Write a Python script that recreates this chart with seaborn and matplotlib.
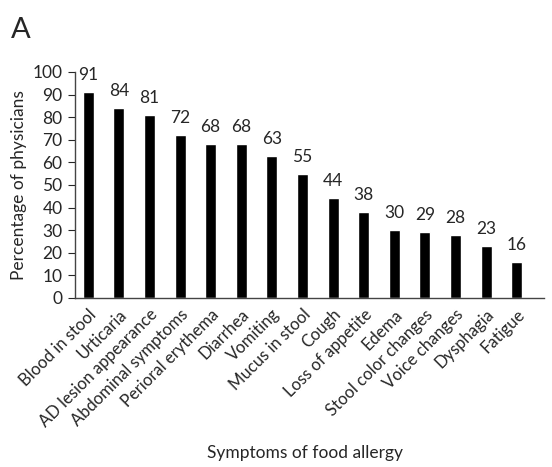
import matplotlib
matplotlib.use("Agg")
import matplotlib.pyplot as plt
import seaborn as sns
import pandas as pd

symptoms = ["Blood in stool", "Urticaria", "AD lesion appearance", "Abdominal symptoms",
            "Perioral erythema", "Diarrhea", "Vomiting", "Mucus in stool", "Cough",
            "Loss of appetite", "Edema", "Stool color changes", "Voice changes",
            "Dysphagia", "Fatigue"]
percent = [91, 84, 81, 72, 68, 68, 63, 55, 44, 38, 30, 29, 28, 23, 16]
yticks = list(range(0, 101, 10))

sns.set_style("white")
plt.rcParams['font.family'] = ['Lato', 'DejaVu Sans']

df = pd.DataFrame({"Symptom": symptoms, "Percent": percent})

fig = plt.figure(figsize=(5.52, 4.67), dpi=100)
ax = fig.add_axes([0.136, 0.362, 0.85, 0.484])
sns.barplot(data=df, x="Symptom", y="Percent", color="black", width=0.36,
            saturation=1, ax=ax)
for p, v in zip(ax.patches, percent):
    ax.text(p.get_x() + p.get_width() / 2, v + 4, str(v), ha="center", va="bottom",
            fontsize=12.5)
ax.set_ylim(0, 100)
ax.set_yticks(yticks)
ax.set_xlim(-0.43, 14.9)
ax.set_xticks(range(len(symptoms)))
ax.set_xticklabels(symptoms, rotation=45, ha="right", rotation_mode="anchor", fontsize=12)
ax.tick_params(axis="y", labelsize=12.5, length=5, width=0.8, direction="out", left=True, pad=4)
ax.tick_params(axis="x", length=0, pad=6)
ax.set_xlabel("")
ax.set_ylabel("Percentage of physicians", fontsize=12.5, labelpad=4)
for s in ["top", "right"]:
    ax.spines[s].set_visible(False)
for s in ["left", "bottom"]:
    ax.spines[s].set_color("#444444")
    ax.spines[s].set_linewidth(1)
fig.text(0.553, 0.02, "Symptoms of food allergy", ha="center", fontsize=12.5)
fig.text(0.02, 0.935, "A", fontsize=21, ha="left", va="center")
fig.savefig("out.png", dpi=100)
